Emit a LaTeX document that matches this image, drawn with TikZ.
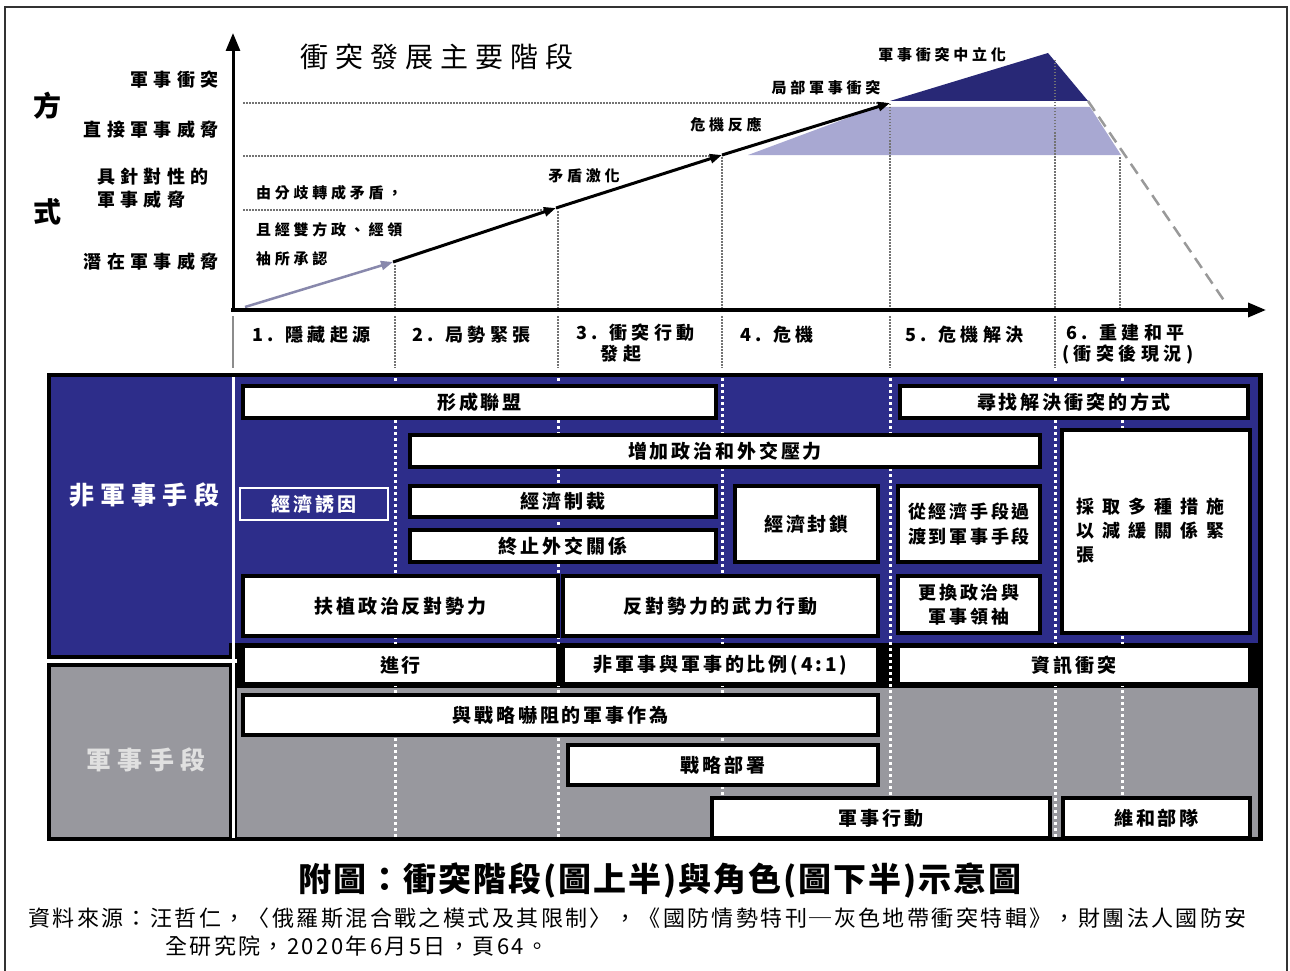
\documentclass[tikz,border=0pt]{standalone}
\usepackage{fontspec}
\setmainfont{Noto Sans CJK TC}
\newfontfamily\cjkM[LetterSpace=15]{Noto Sans CJK TC}
\newfontfamily\cjkS[LetterSpace=25]{Noto Sans CJK TC}
\newfontfamily\cjkY[LetterSpace=30]{Noto Sans CJK TC}
\newfontfamily\cjkW[LetterSpace=45]{Noto Sans CJK TC}
\newfontfamily\cjkN[LetterSpace=11]{Noto Sans CJK TC}
\newfontfamily\cjkC[LetterSpace=6]{Noto Sans CJK TC}
\usetikzlibrary{arrows.meta}
\definecolor{navy}{RGB}{45,45,138}
\definecolor{darknavy}{RGB}{40,40,118}
\definecolor{lilac}{RGB}{168,168,210}
\definecolor{panelgrey}{RGB}{152,152,158}
\definecolor{arrowgrey}{RGB}{136,136,172}
\definecolor{framegrey}{RGB}{50,50,50}
\newcommand\fsz[2]{\fontsize{#1}{#2}\selectfont}
\newcommand\bx[7][]{\node[wbox,#1,minimum width={(#5-#3)*1pt},minimum height={(#6-#4)*1pt}] (#2) at ({(#3+#5)/2},{(#4+#6)/2}) {#7};}
\begin{document}
\begin{tikzpicture}[x=1pt,y=-1pt,
 wbox/.style={draw=black,line width=3.5pt,fill=white,inner sep=0pt,align=center,font=\cjkM\bfseries\fsz{19}{24}},
 lbl/.style={inner sep=0pt,font=\cjkS\bfseries\fsz{15}{18}},
 ylab/.style={inner sep=0pt,font=\cjkY\bfseries\fsz{18}{21}},
 stg/.style={inner sep=0pt,font=\cjkS\bfseries\fsz{18}{21}},
 gdot/.style={draw=black!55,line width=1.3pt,dash pattern=on 1.5pt off 1.5pt},
 wdot/.style={draw=white,line width=3pt,dash pattern=on 3pt off 3pt},
 midtip/.style={-{Triangle[length=12pt,width=9pt]}}
]
\useasboundingbox (0,0) rectangle (1290,971);
\fill[white] (0,0) rectangle (1290,971);
\draw[framegrey,line width=2.5pt] (5,971) -- (5,7) -- (1287,7) -- (1287,971);

% ---------- chart ----------
\coordinate (O) at (233,310);
\coordinate (P0) at (245,307);
\coordinate (P1) at (393,262);
\coordinate (P2) at (556,208);
\coordinate (P3) at (722,155);
\coordinate (P4) at (890,103);
\coordinate (Pk) at (1048,53);
\coordinate (Pr) at (1088,101);
\coordinate (Pe) at (1225,302);

% fills
\fill[lilac] (748,155) -- (877,107) -- (1090,107) -- (1121,155) -- cycle;
\fill[darknavy] (890,101) -- (1048,53) -- (1088,101) -- cycle;

% horizontal dotted guides
\draw[gdot] (243,103) -- (884,103);
\draw[gdot] (243,156) -- (718,156);
\draw[gdot] (243,210) -- (550,210);

% vertical dotted guides in chart
\draw[gdot] (395,265) -- (395,308);
\draw[gdot] (558,211) -- (558,308);
\draw[gdot] (722,157) -- (722,308);
\draw[gdot] (890,104) -- (890,308);
\draw[gdot] (1055,60) -- (1055,308);
\draw[gdot] (1120,157) -- (1120,308);

% separators below axis
\draw[black!45,line width=1.5pt] (233,316) -- (233,368);
\foreach \xx in {395,558,722,890,1055}
  \draw[gdot] (\xx,316) -- (\xx,368);

% dashed decline
\draw[black!40,line width=2.5pt,dash pattern=on 12pt off 7pt] (Pr) -- (Pe);

% conflict line
\draw[arrowgrey,line width=2.5pt,midtip] (P0) -- (P1);
\draw[black,line width=3pt,midtip] (P1) -- (P2);
\draw[black,line width=3pt,midtip] (P2) -- (P3);
\draw[black,line width=3pt,midtip] (P3) -- (P4);

% axes
\draw[black,line width=3pt,-{Triangle[length=18pt,width=14pt]}] (233,312) -- (233,33);
\draw[black,line width=3.5pt,-{Triangle[length=18pt,width=14pt]}] (231,310) -- (1266,310);

% chart title
\node[inner sep=0pt,anchor=west,font=\cjkS\fsz{28}{32}] (title) at (300,57) {衝突發展主要階段};

% y labels
\node[lbl,font=\cjkC\bfseries\fsz{28}{30}] (fang) at (47,106) {方};
\node[lbl,font=\cjkC\bfseries\fsz{28}{30}] (shi) at (47,212) {式};
\node[ylab,anchor=east] (y1) at (219,80) {軍事衝突};
\node[ylab,anchor=east] (y2) at (219,130) {直接軍事威脅};
\node[ylab,anchor=west] (y3a) at (97,177) {具針對性的};
\node[ylab,anchor=west] (y3b) at (97,200) {軍事威脅};
\node[ylab,anchor=east] (y4) at (219,262) {潛在軍事威脅};

% inline labels
\node[lbl,anchor=west] (t1) at (256,193) {由分歧轉成矛盾，};
\node[lbl,anchor=west] (t2) at (256,230) {且經雙方政、經領};
\node[lbl,anchor=west] (t3) at (256,259) {袖所承認};
\node[lbl] (t4) at (584,176) {矛盾激化};
\node[lbl] (t5) at (726,125) {危機反應};
\node[lbl] (t6) at (826,88) {局部軍事衝突};
\node[lbl] (t7) at (942,55) {軍事衝突中立化};

% stage labels
\node[stg,anchor=west] (s1) at (252,335) {1. 隱藏起源};
\node[stg,anchor=west] (s2) at (412,335) {2. 局勢緊張};
\node[stg,anchor=west] (s3) at (576,333) {3. 衝突行動};
\node[stg] (s3b) at (621,354) {發起};
\node[stg,anchor=west] (s4) at (740,335) {4. 危機};
\node[stg,anchor=west] (s5) at (905,335) {5. 危機解決};
\node[stg,anchor=west] (s6) at (1066,333) {6. 重建和平};
\node[stg,anchor=west] (s6b) at (1062,354) {(衝突後現況)};

% ---------- panel ----------
\fill[black] (47,373) rectangle (1263,841);
\fill[navy] (51,377) rectangle (1258,643);
\fill[navy] (51,377) rectangle (229,655);
\fill[panelgrey] (51,667) rectangle (229,837);
\fill[panelgrey] (237,688) rectangle (1258,837);
\draw[white,line width=4pt] (47,661) -- (237,661);
\draw[white,line width=3pt] (233,377) -- (233,838);
\foreach \xx in {395,558,722,890,1055,1122}
  \draw[wdot] (\xx,378) -- (\xx,837);

\node[inner sep=0pt,text=white,font=\cjkS\bfseries\fsz{25}{28}] (nm) at (144,495) {非軍事手段};
\node[inner sep=0pt,text=black!12,font=\cjkS\bfseries\fsz{25}{28}] (mm) at (146,760) {軍事手段};

\bx{b1}{243}{386}{716}{418}{形成聯盟}
\bx{b2}{900}{386}{1248}{418}{尋找解決衝突的方式}
\bx{b3}{410}{435}{1040}{467}{增加政治和外交壓力}
\bx[fill=navy,draw=white,line width=1.5pt,text=white]{b4}{240}{488}{388}{520}{經濟誘因}
\bx{b5}{410}{486}{716}{517}{經濟制裁}
\bx{b6}{410}{530}{716}{562}{終止外交關係}
\bx{b7}{735}{486}{878}{562}{經濟封鎖}
\bx[font=\cjkM\bfseries\fsz{18}{25}]{b8}{898}{486}{1040}{562}{從經濟手段過\\渡到軍事手段}
\bx{b9}{1062}{430}{1250}{633}{}
\node[inner sep=0pt,anchor=north west,align=left,font=\cjkW\bfseries\fsz{18}{24}] (b9t) at (1076,498) {採取多種措施\\以減緩關係緊\\張};
\bx{b10}{243}{576}{558}{636}{扶植政治反對勢力}
\bx{b11}{563}{576}{878}{636}{反對勢力的武力行動}
\bx[font=\cjkM\bfseries\fsz{18}{24}]{b12}{898}{576}{1040}{633}{更換政治與\\軍事領袖}
\bx{b13}{243}{646}{558}{684}{進行}
\bx{b14}{563}{646}{878}{684}{非軍事與軍事的比例(4:1)}
\bx{b15}{898}{646}{1250}{684}{資訊衝突}
\bx{b16}{243}{695}{878}{735}{與戰略嚇阻的軍事作為}
\bx{b17}{568}{745}{878}{785}{戰略部署}
\bx{b18}{712}{798}{1050}{838}{軍事行動}
\bx{b19}{1063}{798}{1250}{838}{維和部隊}

% ---------- caption ----------
\node[inner sep=0pt,font=\cjkC\bfseries\fsz{33}{38}] (cap) at (660,880) {附圖：衝突階段(圖上半)與角色(圖下半)示意圖};
\node[inner sep=0pt,anchor=west,font=\cjkN\fsz{22}{26}] (src1) at (28,918) {資料來源：汪哲仁，〈俄羅斯混合戰之模式及其限制〉，《國防情勢特刊─灰色地帶衝突特輯》，財團法人國防安};
\node[inner sep=0pt,anchor=west,font=\cjkN\fsz{22}{26}] (src2) at (165,946) {全研究院，2020年6月5日，頁64。};
\end{tikzpicture}
\end{document}
